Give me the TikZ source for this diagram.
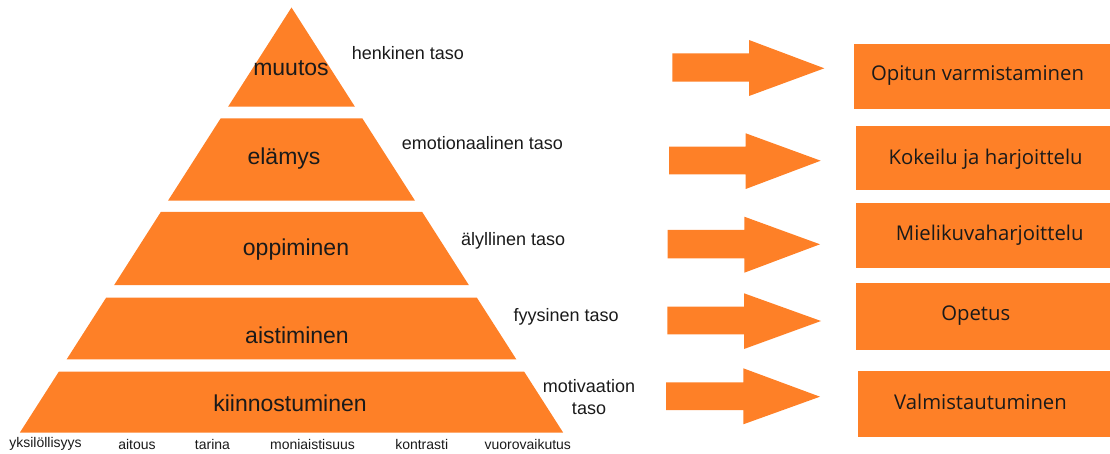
\documentclass[tikz,border=0pt]{standalone}
\usepackage{fontspec}
\setmainfont{Liberation Sans}
\newfontfamily\boxfont{Open Sans}
\definecolor{orng}{HTML}{FE8027}
\definecolor{txt}{HTML}{1A1A1A}
\begin{document}
\begin{tikzpicture}[x=1pt,y=-1pt,
  layer/.style={fill=orng},
  big/.style={font=\fontsize{23}{27}\selectfont,text=txt,inner sep=0pt},
  side/.style={font=\fontsize{18}{22}\selectfont,text=txt,inner sep=0pt,align=center},
  small/.style={font=\fontsize{14}{17}\selectfont,text=txt,inner sep=0pt},
  boxtxt/.style={font=\boxfont\fontsize{20.3}{24}\selectfont,text=txt,inner sep=0pt},
  arrowshape/.style={fill=orng}]
\useasboundingbox (0,0) rectangle (1110,454);
% pyramid layers
\fill[layer] (291.5,7.5) -- (354.9,106.7) -- (228.1,106.7) -- cycle;
\fill[layer] (220.7,118.3) -- (362.3,118.3) -- (415,200.7) -- (168,200.7) -- cycle;
\fill[layer] (160.8,212) -- (422.2,212) -- (468.8,285) -- (114.2,285) -- cycle;
\fill[layer] (106.1,297.7) -- (476.9,297.7) -- (516.3,359.3) -- (66.7,359.3) -- cycle;
\fill[layer] (58.8,371.7) -- (524.2,371.7) -- (563.1,432.5) -- (19.9,432.5) -- cycle;
% pyramid labels
\node[big] (muutos) at (291,68) {muutos};
\node[big] (elamys) at (284,159) {elämys};
\node[big] (oppiminen) at (296,250) {oppiminen};
\node[big] (aistiminen) at (297,335) {aistiminen};
\node[big] (kiinnostuminen) at (290,403) {kiinnostuminen};
% side labels
\node[side,anchor=west] (henk) at (351.7,53) {henkinen taso};
\node[side,anchor=west] (emo) at (401.7,143.5) {emotionaalinen taso};
\node[side,anchor=west] (aly) at (461,241) {älyllinen taso};
\node[side,anchor=west] (fyy) at (513.3,317) {fyysinen taso};
\node[side] (mot) at (589,397) {motivaation\\taso};
% bottom labels
\node[small] (b1) at (45.5,444) {yksilöllisyys};
\node[small] (b2) at (137,444) {aitous};
\node[small] (b3) at (212.5,444) {tarina};
\node[small] (b4) at (312.5,444) {moniaistisuus};
\node[small] (b5) at (421.7,444) {kontrasti};
\node[small] (b6) at (527.8,444) {vuorovaikutus};
% arrows
\fill[arrowshape] (672.3,53.3) -- (749,53.3) -- (749,40) -- (824.3,68.3) -- (749,96) -- (749,81.7) -- (672.3,81.7) -- cycle;
\fill[arrowshape] (669,146.7) -- (745.7,146.7) -- (745.7,133.3) -- (820.7,160.7) -- (745.7,189) -- (745.7,174.3) -- (669,174.3) -- cycle;
\fill[arrowshape] (667.7,230) -- (744.3,230) -- (744.3,216.7) -- (820,244.3) -- (744.3,272.7) -- (744.3,258.3) -- (667.7,258.3) -- cycle;
\fill[arrowshape] (667.3,306.7) -- (744,306.7) -- (744,293.3) -- (821,321) -- (744,349) -- (744,334.3) -- (667.3,334.3) -- cycle;
\fill[arrowshape] (666,382.3) -- (743.3,382.3) -- (743.3,368.3) -- (820,396.7) -- (743.3,424.3) -- (743.3,410) -- (666,410) -- cycle;
% boxes
\fill[orng] (854,44.3) rectangle (1110,109);
\fill[orng] (856,126) rectangle (1110,190);
\fill[orng] (856,202.7) rectangle (1110,267.7);
\fill[orng] (856,283.3) rectangle (1110,350);
\fill[orng] (858.3,370.7) rectangle (1110,437.3);
\node[boxtxt] (r1) at (977.5,75.5) {Opitun varmistaminen};
\node[boxtxt] (r2) at (985.7,159) {Kokeilu ja harjoittelu};
\node[boxtxt] (r3) at (989.7,235.5) {Mielikuvaharjoittelu};
\node[boxtxt] (r4) at (975.8,315.5) {Opetus};
\node[boxtxt] (r5) at (980.5,402) {Valmistautuminen};
\end{tikzpicture}
\end{document}
